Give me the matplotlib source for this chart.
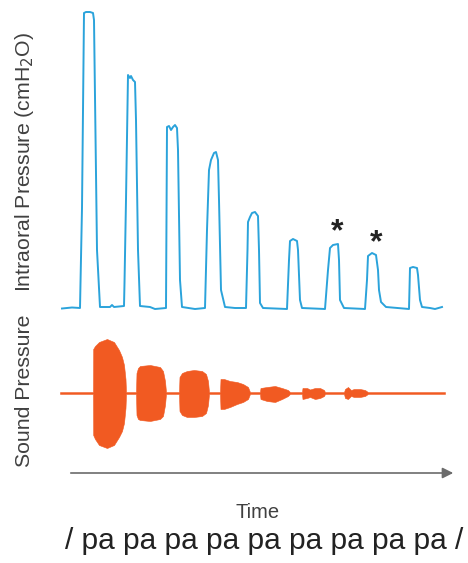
import matplotlib
matplotlib.use("Agg")
import matplotlib.pyplot as plt
import numpy as np

plt.rcParams['font.family'] = ['Liberation Sans', 'DejaVu Sans']

# ---------------- data ----------------
# Intraoral pressure trace (time in s, pressure in cmH2O)
pressure_t = [0.00, 0.10, 0.18, 0.20, 0.22, 0.24, 0.28, 0.31, 0.32, 0.35, 0.38,
              0.48, 0.50, 0.52, 0.62,
              0.625, 0.64, 0.66, 0.68, 0.69, 0.71, 0.73, 0.74, 0.76, 0.78,
              0.88, 0.93, 1.04,
              1.05, 1.07, 1.09, 1.11, 1.13, 1.15, 1.16, 1.18, 1.20,
              1.33, 1.43,
              1.45, 1.47, 1.49, 1.52, 1.54, 1.56, 1.57, 1.59, 1.63,
              1.73, 1.84,
              1.855, 1.86, 1.88, 1.90, 1.93, 1.96, 1.97, 1.98, 2.01,
              2.25,
              2.27, 2.28, 2.31, 2.35, 2.36, 2.38, 2.40,
              2.63,
              2.66, 2.68, 2.71, 2.76, 2.77, 2.78, 2.82,
              3.03,
              3.05, 3.06, 3.10, 3.14, 3.16, 3.17, 3.19, 3.24,
              3.47,
              3.48, 3.51, 3.55, 3.56, 3.58, 3.60, 3.68, 3.73, 3.80]
pressure_v = [-0.05, 0.05, 0.0, 10.0, 29.5, 29.6, 29.6, 29.5, 28.8, 5.8, 0.1,
              0.1, 0.3, 0.1, 0.2,
              2.5, 10.8, 23.3, 23.0, 23.2, 22.8, 22.6, 18.8, 5.8, 0.2,
              0.1, -0.1, 0.0,
              18.1, 18.2, 17.8, 18.1, 18.3, 18.0, 15.8, 2.8, 0.1,
              -0.1, 0.0,
              7.8, 13.8, 14.8, 15.5, 15.6, 14.8, 10.8, 1.8, 0.1,
              0.0, 0.0,
              5.8, 8.6, 9.1, 9.5, 9.6, 9.2, 5.8, 0.5, 0.0,
              -0.1,
              4.8, 6.7, 6.9, 6.7, 5.8, 0.8, 0.0,
              -0.1,
              3.8, 6.0, 6.3, 6.4, 4.8, 0.8, 0.0,
              -0.1,
              2.8, 5.2, 5.5, 5.3, 3.8, 1.8, 0.6, 0.1,
              -0.1,
              4.0, 4.1, 4.0, 3.3, 0.8, 0.1, 0.0, -0.1, 0.1]

# Asterisk-marked syllables (time, pressure position)
star_t = [2.75, 3.145]
star_p = [7.6, 6.5]

# Sound pressure envelope (time in s, upper / lower amplitude, arbitrary units)
sound_t = [-0.02, 0.28, 0.31, 0.312, 0.33, 0.37, 0.45, 0.52, 0.57, 0.60, 0.62, 0.635, 0.64,
           0.74, 0.745, 0.76, 0.78, 0.88, 0.98, 1.01, 1.03, 1.04,
           1.17, 1.175, 1.20, 1.25, 1.32, 1.40, 1.44, 1.46, 1.47,
           1.58, 1.585, 1.62, 1.68, 1.75, 1.81, 1.86, 1.88,
           1.98, 1.985, 2.05, 2.13, 2.20, 2.26, 2.28,
           2.40, 2.405, 2.45, 2.48, 2.53, 2.58, 2.62, 2.63,
           2.82, 2.83, 2.86, 2.89, 2.92, 2.98, 3.03, 3.06,
           3.83]
sound_up = [0.9, 0.9, 0.9, 44, 47, 51, 54, 51, 43, 36, 28, 14, 0.9,
            0.9, 20, 25, 27, 28, 26, 22, 12, 0.9,
            0.9, 16, 20, 22, 23, 22, 19, 12, 0.9,
            0.9, 14, 14, 12, 11, 9, 6, 0.9,
            0.9, 5, 6, 7, 5, 3, 0.9,
            0.9, 5, 5, 3.5, 5, 5, 3, 0.9,
            0.9, 4, 6, 3, 4, 4, 3, 0.9,
            0.9]
sound_lo = [0.9, 0.9, 0.9, 42, 46, 52, 55, 52, 44, 38, 30, 15, 0.9,
            0.9, 22, 26, 27, 28, 26, 23, 12, 0.9,
            0.9, 18, 22, 24, 24, 23, 20, 12, 0.9,
            0.9, 16, 16, 14, 11, 9, 6, 0.9,
            0.9, 6, 8, 9, 6, 3, 0.9,
            0.9, 6, 5, 4, 6, 5, 3, 0.9,
            0.9, 5, 6, 3, 4, 4, 3, 0.9,
            0.9]

syllables = ["pa"] * 9

# ---------------- figure ----------------
W, H = 468, 563
fig = plt.figure(figsize=(W / 100, H / 100), dpi=100)
fig.patch.set_facecolor('white')

blue = '#2ba3db'
orange = '#f15a22'
text_col = '#404040'

def frac(x0, y0, x1, y1):
    # pixel box (top-left origin) -> figure fraction rect
    return [x0 / W, 1 - y1 / H, (x1 - x0) / W, (y1 - y0) / H]

# top panel: pressure (0 at pixel 308, 10 px per cmH2O)
ax1 = fig.add_axes(frac(57, 8, 452, 318))
ax1.plot(pressure_t, pressure_v, color=blue, lw=1.4)
for t, p in zip(star_t, star_p):
    ax1.text(t, p, "*", ha='center', va='center', fontsize=23,
             fontweight='bold', color='#222222')
ax1.set_xlim(-0.05, 3.90)
ax1.set_ylim(-1.0, 30.0)
ax1.axis('off')

# bottom panel: sound pressure (centre at pixel 393, 1 px per unit)
ax2 = fig.add_axes(frac(57, 333, 452, 453))
ax2.fill_between(sound_t, sound_up, -np.array(sound_lo), color=orange, lw=0.4,
                 edgecolor=orange)
ax2.set_xlim(-0.05, 3.90)
ax2.set_ylim(-60, 60)
ax2.axis('off')

# y labels
fig.text(25 / W, 1 - 162 / H, "Intraoral Pressure (cmH$_2$O)", rotation=90,
         ha='center', va='center', fontsize=15.3, color=text_col)
fig.text(25 / W, 1 - 391 / H, "Sound Pressure", rotation=90,
         ha='center', va='center', fontsize=15.3, color=text_col)

# time arrow
fig.add_artist(matplotlib.patches.FancyArrowPatch(
    (68 / W, 1 - 473 / H), (456 / W, 1 - 473 / H), transform=fig.transFigure,
    arrowstyle='-|>', mutation_scale=16, color='#6b6b6b', lw=1.2))

fig.text(258 / W, 1 - 513 / H, "Time", ha='center', va='center',
         fontsize=14.5, color=text_col)
fig.text(264 / W, 1 - 541 / H, "/ " + " ".join(syllables) + " /",
         ha='center', va='center', fontsize=21.5, color='#222222')

fig.savefig("out.png", dpi=100, facecolor='white')
